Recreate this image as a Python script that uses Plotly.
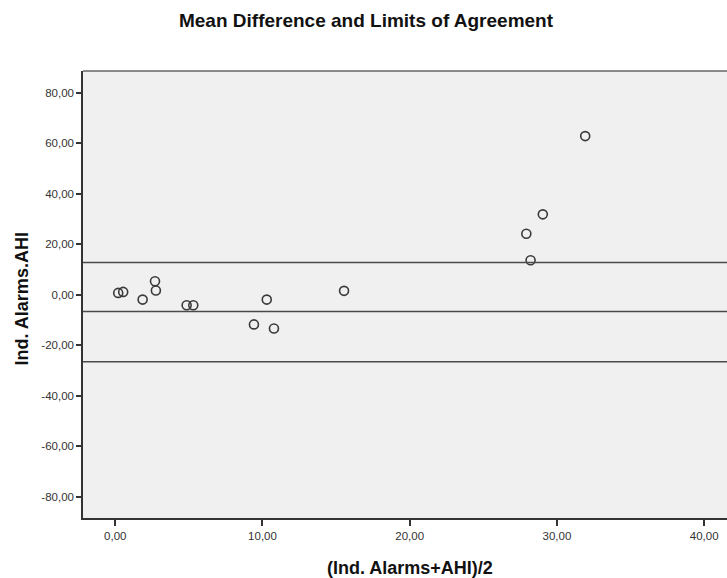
import plotly.graph_objects as go

# Bland-Altman data: mean of the two methods vs. their difference
mean_vals = [0.20, 0.54, 2.70, 2.76, 1.86, 4.85, 5.30, 10.29, 9.42, 10.78, 15.54, 31.92, 29.04, 27.92, 28.21]
diff_vals = [0.79, 1.19, 5.40, 1.71, -1.87, -4.13, -4.13, -1.87, -11.70, -13.30, 1.60, 62.90, 31.90, 24.20, 13.70]

# Upper limit, mean difference, lower limit
ref_lines = [12.8, -6.6, -26.5]

x_ticks = [0, 10, 20, 30, 40]
y_ticks = [-80, -60, -40, -20, 0, 20, 40, 60, 80]


def fmt(v):
    return f"{v:.2f}".replace(".", ",")


FONT = "Liberation Sans, Arial, sans-serif"

fig = go.Figure()
fig.add_trace(go.Scatter(
    x=mean_vals, y=diff_vals, mode="markers",
    marker=dict(symbol="circle-open", size=9, color="#3a3a3a",
                line=dict(width=1.6, color="#3a3a3a")),
    hoverinfo="x+y", showlegend=False,
))

for v in ref_lines:
    fig.add_shape(type="line", xref="paper", yref="y", x0=0, x1=1, y0=v, y1=v,
                  line=dict(color="#4a4a4a", width=1.5), layer="above")

fig.update_layout(
    width=727, height=578,
    margin=dict(l=83, r=0, t=71, b=60),
    paper_bgcolor="white",
    plot_bgcolor="#f0f0f0",
    font=dict(family=FONT, color="#222"),
    title=dict(text="<b>Mean Difference and Limits of Agreement</b>",
               x=366 / 727, xanchor="center", xref="container",
               y=1 - 20 / 578, yref="container", yanchor="middle",
               font=dict(size=19, color="#111", family=FONT)),
    xaxis=dict(range=[-2.19, 41.55], tickvals=x_ticks,
               ticktext=[fmt(v) for v in x_ticks],
               showgrid=False, zeroline=False,
               showline=True, linecolor="#333", linewidth=1.5, mirror=False,
               ticks="outside", ticklen=6, tickwidth=1.5, tickcolor="#333",
               tickfont=dict(size=11.5, color="#333", family=FONT)),
    yaxis=dict(range=[-88.4, 88.7], tickvals=y_ticks,
               ticktext=[fmt(v) for v in y_ticks],
               showgrid=False, zeroline=False,
               showline=True, linecolor="#333", linewidth=1.5, mirror=False,
               ticks="outside", ticklen=5, tickwidth=1.5, tickcolor="#333",
               tickfont=dict(size=11.5, color="#333", family=FONT)),
    annotations=[
        dict(text="<b>(Ind. Alarms+AHI)/2</b>", xref="paper", yref="paper",
             x=(410 - 83) / 644, y=-50 / 447, xanchor="center", yanchor="middle",
             showarrow=False, font=dict(size=18, color="#111", family=FONT)),
        dict(text="<b>Ind. Alarms.AHI</b>", xref="paper", yref="paper",
             x=-61.5 / 644, y=0.49, xanchor="center", yanchor="middle",
             textangle=-90, showarrow=False,
             font=dict(size=18, color="#111", family=FONT)),
    ],
)

# Top border of the plot frame
fig.add_shape(type="line", xref="paper", yref="paper", x0=0, x1=1, y0=1, y1=1,
              line=dict(color="#666", width=1.5))

fig.write_html("out.html")
